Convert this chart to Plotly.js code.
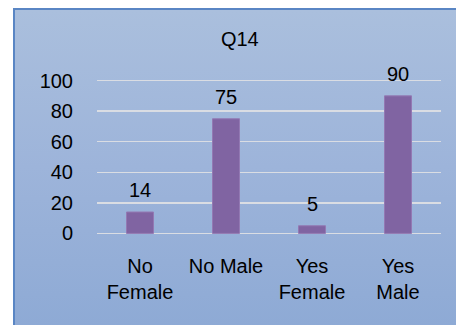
<!DOCTYPE html>
<html>
<head>
<meta charset="utf-8">
<script src="https://cdn.plot.ly/plotly-3.0.1.min.js"></script>
<style>
html,body{margin:0;padding:0;background:#fff;width:456px;height:325px;overflow:hidden;}
#frame{position:absolute;left:13px;top:8px;width:443px;height:317px;box-sizing:border-box;
border-left:2px solid #5a86c4;border-top:2px solid #5a86c4;
background:linear-gradient(to bottom,#aabfdd 0%,#9db4da 50%,#8eaad5 100%);}
#chart{position:absolute;left:0;top:0;width:456px;height:325px;}
</style>
</head>
<body>
<div id="frame"></div>
<div id="chart"></div>
<script>
var categories = ["No<br>Female", "No Male", "Yes<br>Female", "Yes<br>Male"];
var values = [14, 75, 5, 90];
var yTicks = [0, 20, 40, 60, 80, 100];

var font = {family: "Liberation Sans, Arial, sans-serif", size: 20, color: "#000"};

var trace = {
  type: "bar",
  x: categories,
  y: values,
  marker: {color: "#8064a2", line: {color: "#9379b3", width: 1}},
  hoverinfo: "none"
};

var annotations = categories.map(function(c, i){
  return {x: c, y: values[i], xref: "x", yref: "y", text: String(values[i]),
    showarrow: false, yanchor: "bottom", yshift: 9, font: font};
});

var layout = {
  width: 456, height: 325,
  margin: {l: 97, r: 15, t: 76, b: 87},
  paper_bgcolor: "rgba(0,0,0,0)",
  plot_bgcolor: "rgba(0,0,0,0)",
  font: font,
  showlegend: false,
  bargap: 0.686,
  title: {text: "Q14", font: font, x: 0.526, xref: "container", xanchor: "center",
          y: 0.88, yref: "container", yanchor: "middle"},
  xaxis: {type: "category", showgrid: false, zeroline: false, showline: false,
          ticks: "outside", ticklen: 10, tickcolor: "rgba(0,0,0,0)", tickfont: font},
  yaxis: {range: [-3, 103], tickvals: yTicks, ticktext: yTicks.map(String),
          showgrid: true, gridcolor: "#dadde3", gridwidth: 1.5,
          zeroline: true, zerolinecolor: "#dadde3", zerolinewidth: 1.5, showline: false,
          ticks: "outside", ticklen: 19, tickcolor: "rgba(0,0,0,0)", tickfont: font},
  annotations: annotations
};

Plotly.newPlot("chart", [trace], layout, {displayModeBar: false, staticPlot: true});
</script>
</body>
</html>
